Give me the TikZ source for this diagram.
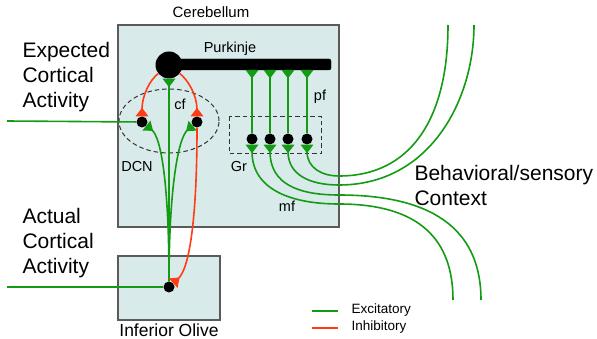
\documentclass[tikz,border=0pt]{standalone}
\usepackage{fontspec}
\setmainfont{Liberation Sans}
\usetikzlibrary{arrows.meta,shapes.geometric}
\definecolor{exc}{RGB}{20,155,20}
\definecolor{inh}{RGB}{255,60,20}
\definecolor{boxfill}{RGB}{216,234,234}
\definecolor{boxline}{RGB}{90,90,90}
\tikzset{
  region/.style={draw=boxline,fill=boxfill,line width=1.2pt},
  dot/.style={circle,fill=black,inner sep=0pt,minimum size=11pt},
  exline/.style={draw=exc,line width=1.6pt},
  inline/.style={draw=inh,line width=1.6pt},
  syn/.style={-{Triangle[reversed,width=12.5pt,length=8.5pt]}},
  biglabel/.style={font=\fontsize{21}{25}\selectfont,align=left,anchor=west},
  midlabel/.style={font=\fontsize{14.5}{17}\selectfont},
  grouping/.style={draw=black!80,dash pattern=on 4.5pt off 3pt,line width=1pt}
}
\begin{document}
\begin{tikzpicture}[x=1pt,y=-1pt]
\useasboundingbox (0,0) rectangle (597,339);
% regions
\draw[region] (118,25) rectangle (339,227);
\draw[region] (118,256) rectangle (220,320);
\node[font=\fontsize{15}{18}\selectfont] (cblab) at (211,12) {Cerebellum};
\node[font=\fontsize{17.5}{20}\selectfont] (iolab) at (169,330) {Inferior Olive};
% groupings
\node[grouping,ellipse,minimum width=100pt,minimum height=64pt,inner sep=0pt] (dcn) at (169,121) {};
\draw[grouping] (229,117) rectangle (321,154);
% Purkinje cell
\draw[fill=black,rounded corners=2pt] (169,59) rectangle (331,70);
\node[dot,minimum size=27pt] (soma) at (169,65) {};
\coordinate (b1) at (252,70);
\coordinate (b2) at (270,70);
\coordinate (b3) at (288,70);
\coordinate (b4) at (307,70);
% dots
\node[dot] (g1) at (252,139) {};
\node[dot] (g2) at (270,139) {};
\node[dot] (g3) at (288,139) {};
\node[dot] (g4) at (307,139) {};
\node[dot] (dl) at (142,122) {};
\node[dot] (dr) at (197,122) {};
\node[dot] (io) at (169,287) {};
% free ends
\coordinate (expin) at (7,121);
\coordinate (actin) at (7,287);
\coordinate (m1) at (453,300);
\coordinate (m2) at (481,300);
\coordinate (m3) at (474,25);
\coordinate (m4) at (448,25);
% labels
\node[midlabel] (pk) at (230,49) {Purkinje};
\node[midlabel] (cf) at (180,104) {cf};
\node[midlabel] (pf) at (320,97) {pf};
\node[midlabel] (dcnl) at (137,167) {DCN};
\node[midlabel] (gr) at (239,167) {Gr};
\node[midlabel] (mf) at (287,206) {mf};
\node[biglabel] (exp) at (19,77) {Expected\\Cortical\\Activity};
\node[biglabel] (act) at (19,243) {Actual\\Cortical\\Activity};
\node[biglabel] (ctx) at (411,185) {Behavioral/sensory\\Context};
% inputs
\draw[exline] (expin) -- (dl);
\draw[exline] (actin) -- (io);
% parallel fibres
\draw[exline,syn] (g1) -- (b1);
\draw[exline,syn] (g2) -- (b2);
\draw[exline,syn] (g3) -- (b3);
\draw[exline,syn] (g4) -- (b4);
% mossy fibres
\draw[exline,syn] (m1) .. controls (453,240) and (420,204) .. (339,204) .. controls (292,204) and (252,190) .. (g1);
\draw[exline,syn] (m2) .. controls (481,235) and (440,195) .. (339,195) .. controls (300,195) and (270,185) .. (g2);
\draw[exline,syn] (m3) .. controls (474,100) and (430,185) .. (339,185) .. controls (310,185) and (288,175) .. (g3);
\draw[exline,syn] (m4) .. controls (448,120) and (410,176) .. (339,176) .. controls (322,176) and (307,168) .. (g4);
% climbing fibres
\draw[exline,syn] (io) -- (soma);
\draw[exline,syn] (io) .. controls (169,190) and (162,138) .. (dl);
\draw[exline,syn] (io) .. controls (169,190) and (178,138) .. (dr);
% inhibitory
\draw[inline,syn] (soma) .. controls (150,80) and (142,95) .. (dl);
\draw[inline,syn] (soma) .. controls (188,80) and (197,95) .. (dr);
\draw[inline,syn] (dr) .. controls (197,215) and (190,268) .. (io);
% legend
\coordinate (le1) at (312,311);
\coordinate (le2) at (338,311);
\coordinate (li1) at (312,328);
\coordinate (li2) at (338,328);
\draw[exline,line width=2.2pt] (le1) -- (le2);
\draw[inline,line width=2.2pt] (li1) -- (li2);
\node[anchor=west,font=\fontsize{13.5}{16}\selectfont] (lexc) at (348,310) {Excitatory};
\node[anchor=west,font=\fontsize{13.5}{16}\selectfont] (linh) at (348,327) {Inhibitory};
\end{tikzpicture}
\end{document}
